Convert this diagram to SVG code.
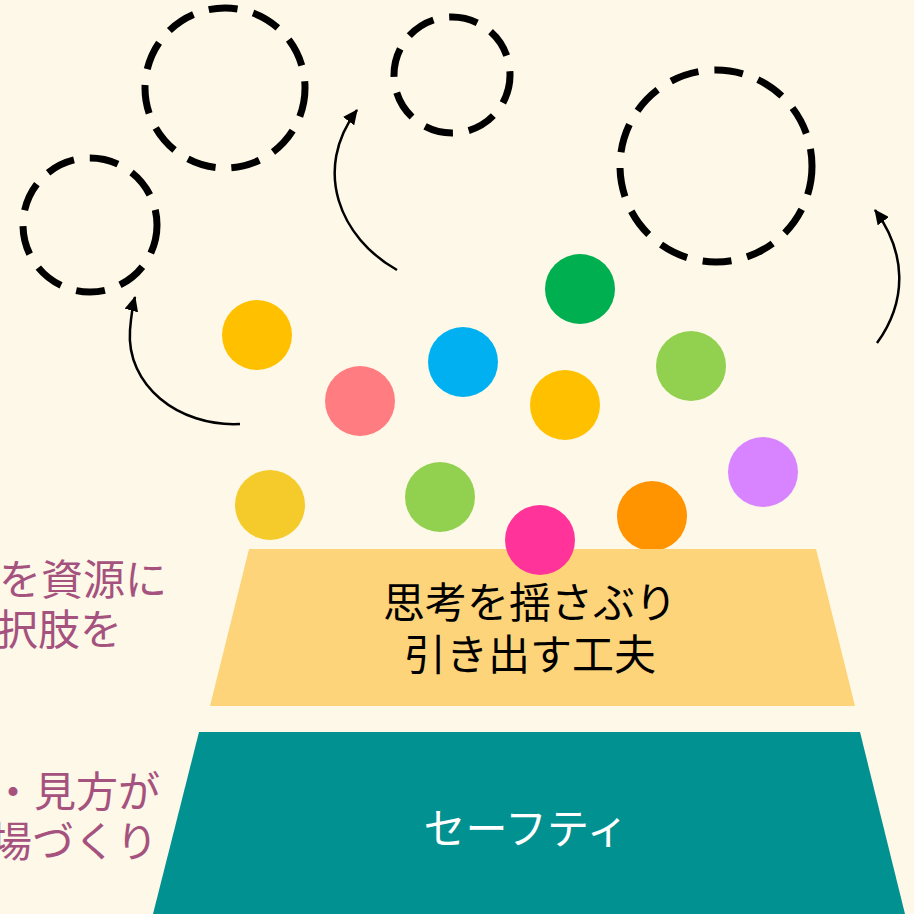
<svg xmlns="http://www.w3.org/2000/svg" width="914" height="914" viewBox="0 0 914 914">
  <defs>
    <marker id="ah" markerUnits="userSpaceOnUse" markerWidth="16" markerHeight="14" refX="14" refY="7" orient="auto">
      <path d="M0,0 L15,7 L0,14 Z" fill="#000"/>
    </marker>
    <style>
      .dash { fill: none; stroke: #000; stroke-width: 7; stroke-dasharray: 29 16; }
      .arrow { fill: none; stroke: #000; stroke-width: 2.5; marker-end: url(#ah); }
      .jp { font-family: "Noto Sans CJK JP", "Noto Sans CJK SC", sans-serif; font-size: 42px; }
      .side { fill: #A5527F; }
    </style>
  </defs>
  <rect x="0" y="0" width="914" height="914" fill="#FDF8E7"/>

  <g id="side-text" class="jp side">
    <text x="-1" y="595">を資源に</text>
    <text x="-4" y="645">択肢を</text>
    <text x="-8" y="807">・見方が</text>
    <text x="-10" y="857">場づくり</text>
  </g>

  <g id="dashed-circles">
    <circle id="c1" class="dash" cx="90" cy="225" r="67"/>
    <circle id="c2" class="dash" cx="225" cy="88" r="80"/>
    <circle id="c3" class="dash" cx="452" cy="75" r="58"/>
    <circle id="c4" class="dash" cx="716" cy="166" r="96"/>
  </g>

  <g id="connectors">
    <path class="arrow" d="M240,424 C178,427 126,385 130,330 C131,318 132,308 135,297"/>
    <path class="arrow" d="M397,270 C340,238 312,170 357,110"/>
    <path class="arrow" d="M877,343 C908,300 906,252 875,210"/>
  </g>

  <g id="dots">
    <circle cx="257" cy="335" r="35" fill="#FFC000"/>
    <circle cx="360" cy="401" r="35" fill="#FF7C80"/>
    <circle cx="463" cy="362" r="35" fill="#00B0F0"/>
    <circle cx="580" cy="289" r="35" fill="#00B050"/>
    <circle cx="565" cy="405" r="35" fill="#FFC000"/>
    <circle cx="691" cy="366" r="35" fill="#92D050"/>
    <circle cx="270" cy="505" r="35" fill="#F5CA2B"/>
    <circle cx="440" cy="497" r="35" fill="#92D050"/>
    <circle cx="652" cy="516" r="35" fill="#FF9300"/>
    <circle cx="763" cy="472" r="35" fill="#D883FF"/>
  </g>

  <g id="tier-ideas">
    <polygon points="249,549 816,549 855,706 210,706" fill="#FDD47A"/>
    <circle cx="540" cy="540" r="35" fill="#FF3399"/>
    <text class="jp" x="530" y="618" text-anchor="middle" fill="#000">思考を揺さぶり</text>
    <text class="jp" x="530" y="670" text-anchor="middle" fill="#000">引き出す工夫</text>
  </g>

  <g id="tier-safety">
    <polygon points="199,732 860,732 905,914 153,914" fill="#009190"/>
    <text class="jp" x="526" y="844" text-anchor="middle" fill="#FFFFFF">セーフティ</text>
  </g>
</svg>
